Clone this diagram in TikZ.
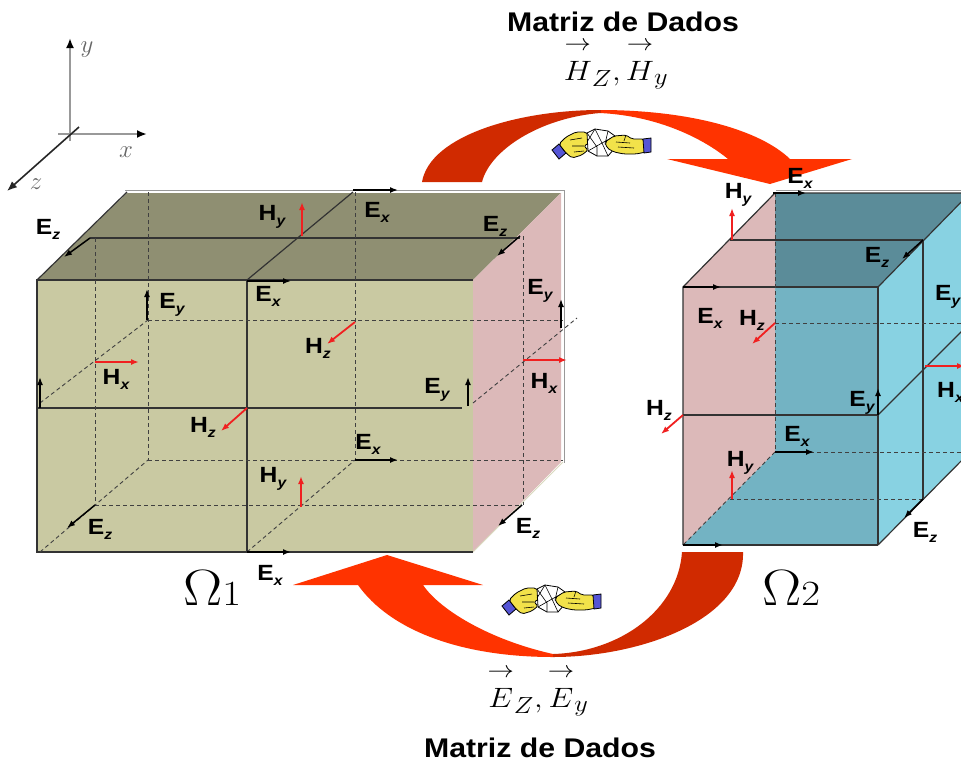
\documentclass[tikz,border=0pt]{standalone}
\usepackage{amsmath}
\usepackage{graphicx}
\usepackage{fontspec}
\setmainfont{Liberation Sans}[FakeStretch=1.12]
\usetikzlibrary{arrows.meta}

\definecolor{olivefront}{HTML}{C9C9A2}
\definecolor{olivetop}{HTML}{8F8F72}
\definecolor{rosa}{HTML}{DCB9B9}
\definecolor{tealtop}{HTML}{5B8C99}
\definecolor{tealfront}{HTML}{73B3C3}
\definecolor{cyanside}{HTML}{88D2E2}
\definecolor{flowdark}{HTML}{D02A00}
\definecolor{flowbright}{HTML}{FF3300}
\definecolor{hred}{HTML}{F02020}
\definecolor{handyellow}{HTML}{F2E24A}
\definecolor{cuffblue}{HTML}{5555D5}

% field component label: bold letter with a lowered italic index
\newcommand\fv[2]{#1\raisebox{-5pt}{\fontsize{14}{14}\selectfont\bfseries\itshape #2}}
% vector symbol with a detached arrow above it
\newcommand\vecsym[2]{{\overset{\rightarrow}{#1\rule{0pt}{0.85em}}}_{#2}}
% math set at a large size (the math fonts only come in fixed sizes)
\newcommand\bigmath[3]{\scalebox{#1}[#2]{\fontsize{24.88}{30}\selectfont$#3$}}

% two hands passing a crumpled sheet
\newcommand\handoff[2]{%
  \begin{scope}[shift={(#1,#2)}, line width=0.8pt, draw=black]
    \filldraw[fill=cuffblue] (-50,6) -- (-43,0) -- (-36,9) -- (-43,15) -- cycle;
    \filldraw[fill=handyellow, rounded corners=2pt] (-43,0) -- (-36,-7) -- (-26,-12) -- (-16,-12)
      -- (-11,-6) -- (-13,-1) -- (-18,2) -- (-14,6) -- (-20,11) -- (-30,14) -- (-36,9) -- cycle;
    \draw[line width=0.6pt] (-32,-4) -- (-20,-6) (-30,2) -- (-18,2) (-28,8) -- (-18,7);
    \filldraw[fill=white] (-15,-11) -- (-7,-15) -- (6,-13) -- (13,-8) -- (12,5) -- (6,12) -- (-5,12) -- (-14,7) -- cycle;
    \draw[line width=0.6pt] (-7,-15) -- (0,-1) -- (13,-8) (0,-1) -- (-14,7) (0,-1) -- (6,12)
      (-15,-11) -- (-5,3) -- (-5,12) (6,-13) -- (3,0) -- (12,5) (-7,-15) -- (-15,-2);
    \filldraw[fill=handyellow, rounded corners=2pt] (3,-2) -- (12,-8) -- (24,-9) -- (30,-5) -- (42,-5)
      -- (44,8) -- (34,10) -- (22,10) -- (12,8) -- (5,4) -- cycle;
    \draw[line width=0.6pt] (14,-2) -- (28,-1) (16,3) -- (32,4) (24,-9) -- (22,-3);
    \filldraw[fill=cuffblue] (41,-5) -- (49,-6) -- (49,8) -- (42,9) -- cycle;
  \end{scope}}

\begin{document}
\begin{tikzpicture}[x=1pt, y=-1pt,
  edge/.style={draw=black!80, line width=1.2pt},
  rim/.style={draw=black!40, line width=1pt},
  dline/.style={draw=black!75, line width=0.9pt, dash pattern=on 4pt off 3pt},
  earrow/.style={draw=black, line width=1.5pt, -{Latex[length=8pt,width=6pt]}},
  harrow/.style={draw=hred, line width=1.8pt, -{Latex[length=8pt,width=6pt]}},
  axisline/.style={draw=black!40, line width=2pt, -{Latex[length=10pt,width=8pt,color=black]}},
  lbl/.style={font=\fontsize{22}{22}\selectfont\bfseries, inner sep=0pt},
  axlbl/.style={font=\fontsize{24.88}{26}\selectfont, text=black!60, inner sep=0pt},
  title/.style={font=\fontsize{27}{27}\selectfont\bfseries, inner sep=0pt}]

\useasboundingbox (0,0) rectangle (961,764);
\clip (0,0) rectangle (961,764);
\fill[white] (0,0) rectangle (961,764);

% ---------- coordinate axes ----------
\draw[axisline] (58,134) -- (147,134);
\draw[axisline] (70,141) -- (70,38);
\draw[draw=black!85, line width=1.6pt, -{Latex[length=10pt,width=8pt]}] (79,127) -- (7,191);
\node[axlbl] (lx) at (126,152) {$x$};
\node[axlbl] (ly) at (87,50) {$y$};
\node[axlbl] (lz) at (36,184) {$z$};

% ---------- exchange arrows ----------
\def\toparrow{(422,182) .. controls (430,135) and (520,110) .. (600,110)
  .. controls (690,110) and (760,130) .. (790,159)
  -- (852,159) -- (770,184) -- (667,159) -- (728,159)
  .. controls (705,140) and (660,116) .. (600,113)
  .. controls (540,118) and (490,150) .. (482,182) -- cycle}
\begin{scope}
  \clip (0,0) rectangle (601,300);
  \fill[flowdark] \toparrow;
\end{scope}
\begin{scope}
  \clip (601,0) rectangle (961,300);
  \fill[flowbright] \toparrow;
\end{scope}

\def\botarrow{(743,552) .. controls (745,620) and (640,657) .. (553,657)
  .. controls (460,657) and (390,630) .. (358,585)
  -- (293,585) -- (387,555) -- (483,585) -- (423,585)
  .. controls (440,610) and (490,640) .. (553,654)
  .. controls (620,652) and (678,610) .. (682,552) -- cycle}
\begin{scope}
  \clip (0,500) rectangle (553,764);
  \fill[flowbright] \botarrow;
\end{scope}
\begin{scope}
  \clip (553,500) rectangle (961,764);
  \fill[flowdark] \botarrow;
\end{scope}

\handoff{602}{144}
\handoff{552}{600}

% ---------- left block ----------
\fill[olivetop] (37,280) -- (127,193) -- (561,193) -- (473,280) -- cycle;
\fill[olivefront] (37,280) rectangle (473,552);
\fill[rosa] (473,280) -- (561,193) -- (561,462) -- (473,552) -- cycle;
\draw[rim] (125,190) -- (564,190) -- (564,463);
\draw[draw=olivefront!70!white, line width=1pt] (473,552) -- (563,462);
\draw[edge] (473,280) -- (37,280) -- (37,552) -- (473,552);
\draw[edge] (37,280) -- (127,192);
\draw[edge] (247,280) -- (247,552);
\draw[edge] (37,408) -- (462,408);
\draw[edge] (247,280) -- (353,192);
\draw[edge] (90,238) -- (520,238);

\draw[dline] (95,238) -- (95,505);
\draw[dline] (148,192) -- (148,460);
\draw[dline] (355,192) -- (355,460);
\draw[dline] (523,236) -- (523,505);
\draw[dline] (148,320) -- (563,320);
\draw[dline] (148,460) -- (563,460);
\draw[dline] (95,505) -- (522,505);
\draw[dline] (40,403) -- (148,320);
\draw[dline] (40,552) -- (148,460);
\draw[dline] (247,552) -- (355,460);
\draw[dline] (473,403) -- (577,318);

\draw[earrow] (90,238) -- (64,257);
\draw[earrow] (353,190) -- (398,190);
\draw[earrow] (520,236) -- (497,256);
\draw[earrow] (247,281) -- (291,281);
\draw[earrow] (147,320) -- (147,289);
\draw[earrow] (561,328) -- (561,299);
\draw[earrow] (40,408) -- (40,377);
\draw[earrow] (468,406) -- (468,377);
\draw[earrow] (355,460) -- (398,460);
\draw[earrow] (95,505) -- (67,528);
\draw[earrow] (522,505) -- (498,526);
\draw[earrow] (247,552) -- (291,552);

\draw[harrow] (302,236) -- (302,202);
\draw[harrow] (95,362) -- (139,362);
\draw[harrow] (355,322) -- (327,344);
\draw[harrow] (523,360) -- (567,360);
\draw[harrow] (247,408) -- (221,431);
\draw[harrow] (301,507) -- (301,476);

\node[lbl] (a1) at (48,229) {\fv{E}{z}};
\node[lbl] (a2) at (272,217) {\fv{H}{y}};
\node[lbl] (a3) at (377,212) {\fv{E}{x}};
\node[lbl] (a4) at (495,226) {\fv{E}{z}};
\node[lbl] (a5) at (268,296) {\fv{E}{x}};
\node[lbl] (a6) at (172,305) {\fv{E}{y}};
\node[lbl] (a7) at (540,291) {\fv{E}{y}};
\node[lbl] (a8) at (318,348) {\fv{H}{z}};
\node[lbl] (a9) at (116,379) {\fv{H}{x}};
\node[lbl] (a10) at (544,383) {\fv{H}{x}};
\node[lbl] (a11) at (437,390) {\fv{E}{y}};
\node[lbl] (a12) at (203,427) {\fv{H}{z}};
\node[lbl] (a13) at (368,444) {\fv{E}{x}};
\node[lbl] (a14) at (273,479) {\fv{H}{y}};
\node[lbl] (a15) at (100,529) {\fv{E}{z}};
\node[lbl] (a16) at (528,528) {\fv{E}{z}};
\node[lbl] (a17) at (270,575) {\fv{E}{x}};

% ---------- right block ----------
\fill[tealfront] (683,287) rectangle (878,545);
\fill[tealtop] (683,287) -- (775,193) -- (970,193) -- (878,287) -- cycle;
\fill[cyanside] (878,287) -- (970,193) -- (970,452) -- (878,545) -- cycle;
\fill[rosa] (683,287) -- (775,193) -- (775,452) -- (683,545) -- cycle;
\draw[rim] (776,190) -- (961,190);
\draw[edge] (683,545) -- (683,287) -- (775,193) -- (970,193);
\draw[edge] (683,287) -- (878,287) -- (878,545);
\draw[edge] (683,545) -- (878,545);
\draw[edge] (878,287) -- (970,193);
\draw[edge] (878,545) -- (970,452);
\draw[edge] (730,240) -- (923,240);
\draw[edge] (923,240) -- (923,499);
\draw[edge] (878,415) -- (970,323);
\draw[edge] (683,415) -- (878,415);

\draw[dline] (775,193) -- (775,452);
\draw[dline] (775,323) -- (970,323);
\draw[dline] (775,452) -- (970,452);
\draw[dline] (730,499) -- (923,499);
\draw[dline] (775,452) -- (683,545);

\draw[earrow] (773,193) -- (806,193);
\draw[earrow] (683,287) -- (721,287);
\draw[earrow] (923,240) -- (902,259);
\draw[earrow] (878,415) -- (878,388);
\draw[earrow] (775,452) -- (814,452);
\draw[earrow] (923,499) -- (904,518);
\draw[earrow] (683,545) -- (723,545);

\draw[harrow] (732,240) -- (732,208);
\draw[harrow] (775,323) -- (752,344);
\draw[harrow] (683,415) -- (661,434);
\draw[harrow] (925,366) -- (965,366);
\draw[harrow] (732,499) -- (732,470);

\node[lbl] (b1) at (800,178) {\fv{E}{x}};
\node[lbl] (b2) at (738,195) {\fv{H}{y}};
\node[lbl] (b3) at (877,257) {\fv{E}{z}};
\node[lbl] (b4) at (710,318) {\fv{E}{x}};
\node[lbl] (b5) at (752,320) {\fv{H}{z}};
\node[lbl, anchor=west] (b6) at (935,297) {\fv{E}{y}};
\node[lbl] (b7) at (659,410) {\fv{H}{z}};
\node[lbl] (b8) at (862,403) {\fv{E}{y}};
\node[lbl, anchor=west] (b9) at (937,392) {\fv{H}{x}};
\node[lbl] (b10) at (797,436) {\fv{E}{x}};
\node[lbl] (b11) at (740,463) {\fv{H}{y}};
\node[lbl] (b12) at (925,532) {\fv{E}{z}};

% ---------- domain names and data labels ----------
\node[anchor=base west, inner sep=0pt] (om1) at (183,605)
  {\bigmath{2.36}{2.05}{\Omega{\scriptscriptstyle 1}}};
\node[anchor=base west, inner sep=0pt] (om2) at (762,605)
  {\bigmath{2.36}{2.05}{\Omega{\scriptscriptstyle 2}}};

\node[title] (mtop) at (623,22) {Matriz de Dados};
\node[title] (mbot) at (540,748) {Matriz de Dados};
\node[anchor=base, inner sep=0pt] (htop) at (616,80)
  {\bigmath{1.27}{1.125}{\vecsym{H}{Z},\vecsym{H}{y}}};
\node[anchor=base, inner sep=0pt] (ebot) at (538,707)
  {\bigmath{1.27}{1.125}{\vecsym{E}{Z},\vecsym{E}{y}}};
\end{tikzpicture}
\end{document}
